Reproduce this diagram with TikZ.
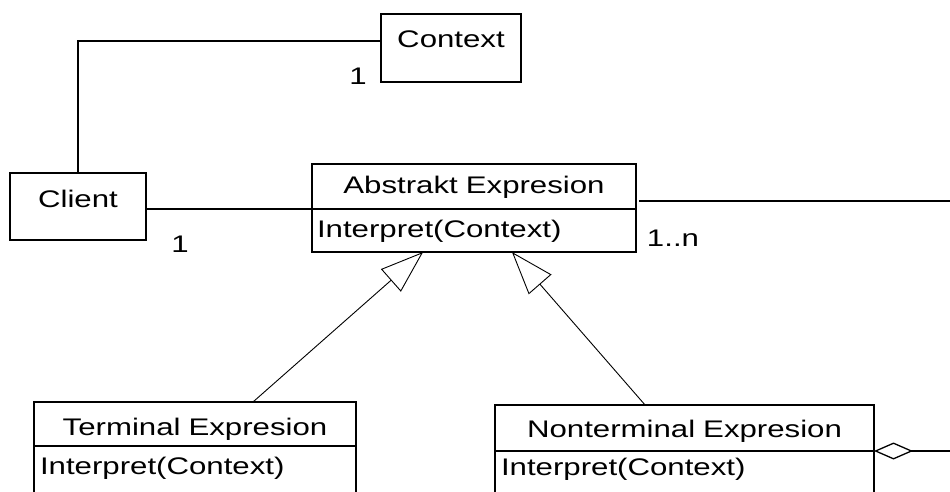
\documentclass[tikz,border=0pt]{standalone}
\usepackage{fontspec}
\setmainfont{Liberation Sans}[FakeStretch=1.3]
\usepackage{tikz}
\usetikzlibrary{arrows.meta,calc}
\tikzset{
  classbox/.style={draw, line width=1.4pt, inner xsep=0pt, inner ysep=0pt,
    outer sep=0pt, anchor=north west, align=center},
  opbox/.style={classbox, inner xsep=5pt, align=left},
  mult/.style={inner sep=0pt},
  assoc/.style={line width=1.3pt},
  inherit/.style={line width=0.9pt, -{Triangle[open,length=43pt,width=30pt]}},
  aggr/.style={line width=1.3pt, {Diamond[open,length=39pt,width=17pt]}-}
}

\begin{document}
\begin{tikzpicture}[x=1pt,y=-1pt,font=\fontsize{24}{28}\selectfont]
    \useasboundingbox (0,0) rectangle (950,492);
    \clip (0,0) rectangle (950,492);
    \node[classbox, text width=140pt, text height=34pt, text depth=34pt] (context) at (381,14) {Context};
    \node[classbox, text width=136pt, text height=34pt, text depth=33pt] (client) at (10,173) {Client};
    \node[classbox, text width=324pt, text height=29pt, text depth=16pt] (abstract) at (312,164) {Abstrakt Expresion};
    \node[opbox, text width=314pt, text height=28pt, text depth=15pt] (abstractop) at (abstract.south west) {Interpret(Context)};
    \node[classbox, text width=322pt, text height=33pt, text depth=11pt] (terminal) at (34,402) {Terminal Expresion};
    \node[opbox, text width=310pt, inner xsep=6pt, text height=28pt, text depth=50pt] (terminalop) at (terminal.south west) {Interpret(Context)};
    \node[classbox, text width=379pt, text height=32pt, text depth=14pt] (nonterminal) at (495,405) {Nonterminal Expresion};
    \node[opbox, text width=367pt, inner xsep=6pt, text height=24pt, text depth=50pt] (nonterminalop) at (nonterminal.south west) {Interpret(Context)};
    \coordinate (agg) at (960,201);
    \coordinate (part) at (960,451);
    \draw[assoc] (client.north) |- ([yshift=7pt]context.west);
    \draw[assoc] (client.east |- abstractop.north west) -- (abstractop.north west);
    \draw[assoc] ([xshift=3pt]abstract.east |- agg) -- (agg);
    \draw[inherit] ($(terminal.north west)!0.68!(terminal.north east)$) -- ($(abstractop.south west)!0.343!(abstractop.south east)$);
    \draw[inherit] ($(nonterminal.north west)!0.396!(nonterminal.north east)$) -- ($(abstractop.south west)!0.617!(abstractop.south east)$);
    \draw[aggr] (nonterminal.south east) -- (part);
    \node[mult] (ctxmult) at (358,76) {1};
    \node[mult] (clmult) at (180,244) {1};
    \node[mult] (absmult) at (673,238) {1..n};
\end{tikzpicture}
\end{document}
